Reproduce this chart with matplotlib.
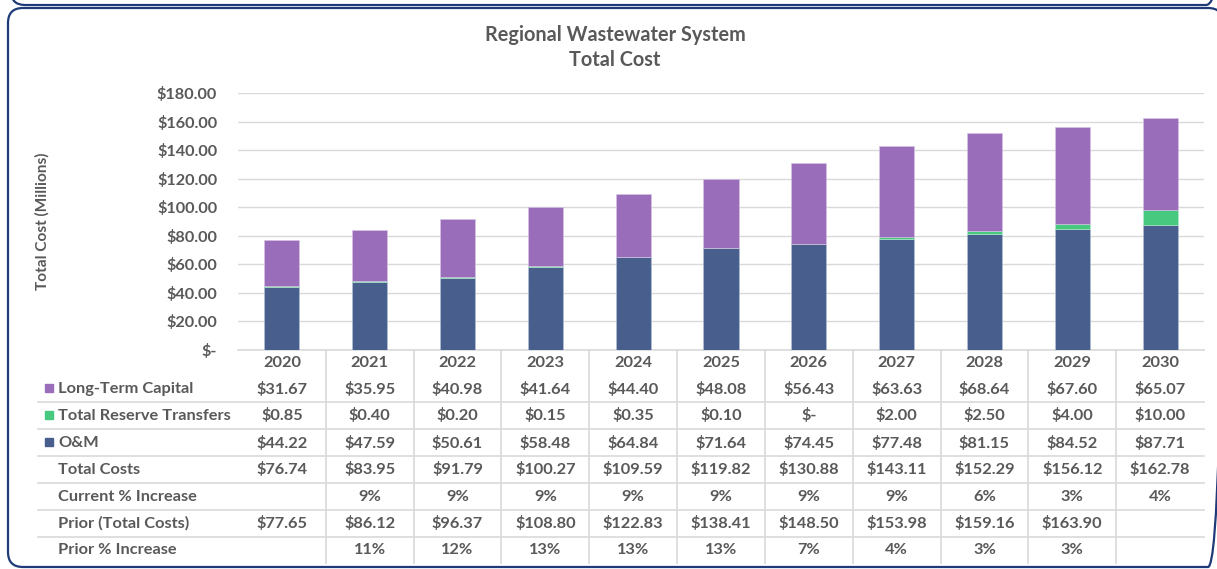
import matplotlib
matplotlib.use("Agg")
import matplotlib.pyplot as plt
from matplotlib.patches import FancyBboxPatch, Rectangle
from matplotlib.transforms import blended_transform_factory
from matplotlib.ticker import FuncFormatter

plt.rcParams['font.family'] = ['Lato', 'DejaVu Sans']

years = ["2020", "2021", "2022", "2023", "2024", "2025", "2026", "2027", "2028", "2029", "2030"]
long_term = [31.67, 35.95, 40.98, 41.64, 44.40, 48.08, 56.43, 63.63, 68.64, 67.60, 65.07]
reserve = [0.85, 0.40, 0.20, 0.15, 0.35, 0.10, 0.0, 2.00, 2.50, 4.00, 10.00]
om = [44.22, 47.59, 50.61, 58.48, 64.84, 71.64, 74.45, 77.48, 81.15, 84.52, 87.71]
total_costs = [76.74, 83.95, 91.79, 100.27, 109.59, 119.82, 130.88, 143.11, 152.29, 156.12, 162.78]
current_pct = [None, 9, 9, 9, 9, 9, 9, 9, 6, 3, 4]
prior_total = [77.65, 86.12, 96.37, 108.80, 122.83, 138.41, 148.50, 153.98, 159.16, 163.90, None]
prior_pct = [None, 11, 12, 13, 13, 13, 7, 4, 3, 3, None]

purple = '#9A6DBA'
green = '#47C97F'
navy = '#485E8C'
txt = '#595959'
grid = '#D9D9D9'

W, H = 1217, 569
fig = plt.figure(figsize=(W / 100, H / 100), dpi=100)

# overlay in pixel coordinates for the rounded frames
bg = fig.add_axes([0, 0, 1, 1], zorder=-1)
bg.set_xlim(0, W)
bg.set_ylim(H, 0)
bg.axis('off')
frame_col = '#1F3A78'
bg.add_patch(FancyBboxPatch((8, 8), 1223 - 8, 567 - 8, boxstyle="round,pad=0,rounding_size=15",
                            fill=False, edgecolor=frame_col, lw=1.6, clip_on=False))
bg.add_patch(FancyBboxPatch((11, -100), 1220 - 11, 105, boxstyle="round,pad=0,rounding_size=14",
                            fill=False, edgecolor=frame_col, lw=1.6, clip_on=False))

# plot area in pixels
x0, x1, ytop, ybot = 238, 1204, 93, 350
ax = fig.add_axes([x0 / W, (H - ybot) / H, (x1 - x0) / W, (ybot - ytop) / H])

x = list(range(len(years)))
bw = 0.4
ax.bar(x, om, bw, color=navy, edgecolor='#B7C2D8', linewidth=0.4, zorder=3)
ax.bar(x, reserve, bw, bottom=om, color=green, edgecolor='#B8EBCF', linewidth=0.4, zorder=3)
bot2 = [a + b for a, b in zip(om, reserve)]
ax.bar(x, long_term, bw, bottom=bot2, color=purple, edgecolor='#D9C6E6', linewidth=0.4, zorder=3)

ax.set_xlim(-0.5, len(years) - 0.5)
ax.set_ylim(0, 180)
ax.set_yticks(range(0, 181, 20))
ax.yaxis.set_major_formatter(FuncFormatter(lambda v, p: "$-" if v == 0 else f"${v:,.2f}"))
ax.grid(axis='y', color=grid, lw=1, zorder=0)
for s in ['top', 'right', 'left']:
    ax.spines[s].set_visible(False)
ax.spines['bottom'].set_color(grid)
ax.spines['bottom'].set_linewidth(1.2)
ax.tick_params(axis='y', length=0, pad=15, labelsize=11.7, labelcolor=txt)
for lab in ax.get_yticklabels():
    lab.set_fontweight('bold')
ax.set_xticks([])

ax.set_ylabel("Total Cost (Millions)", fontsize=11.1, color=txt, fontweight='bold', labelpad=0)
ax.yaxis.set_label_coords(50 / W, 0.5, transform=blended_transform_factory(fig.transFigure, ax.transAxes))

fig.text(615 / W, 1 - 35 / H, "Regional Wastewater System", ha='center', va='center',
         fontsize=14.3, fontweight='bold', color=txt)
fig.text(615 / W, 1 - 60 / H, "Total Cost", ha='center', va='center',
         fontsize=14.3, fontweight='bold', color=txt)

# data table
tr = blended_transform_factory(ax.transData, fig.transFigure)
def fy(p):
    return 1 - p / H

def money(v):
    if v is None:
        return ""
    return "$-" if v == 0 else f"${v:,.2f}"

def pct(v):
    return "" if v is None else f"{v}%"

rows = [
    ("Long-Term Capital", purple, [money(v) for v in long_term]),
    ("Total Reserve Transfers", green, [money(v) for v in reserve]),
    ("O&M", navy, [money(v) for v in om]),
    ("Total Costs", None, [money(v) for v in total_costs]),
    ("Current % Increase", None, [pct(v) for v in current_pct]),
    ("Prior (Total Costs)", None, [money(v) for v in prior_total]),
    ("Prior % Increase", None, [pct(v) for v in prior_pct]),
]
row_y = [389, 416, 443, 470, 497, 523, 550]
fs = 11.8

for i, yr in enumerate(years):
    fig.text(i, fy(363), yr, transform=tr, fontsize=fs, fontweight='bold', color=txt,
             ha='center', va='center')

for (name, col, vals), yp in zip(rows, row_y):
    fig.text(58 / W, fy(yp), name, fontsize=fs, fontweight='bold', color=txt,
             ha='left', va='center')
    if col is not None:
        fig.patches.append(Rectangle((45 / W, fy(yp + 3)), 8 / W, 8 / H,
                                     transform=fig.transFigure, color=col))
    for i, v in enumerate(vals):
        fig.text(i, fy(yp), v, transform=tr, fontsize=fs, fontweight='bold',
                 color=txt, ha='center', va='center')

for yp in [402, 429, 456, 483, 510, 537]:
    fig.add_artist(plt.Line2D([38 / W, x1 / W], [fy(yp), fy(yp)], transform=fig.transFigure,
                              color=grid, lw=1.2))
for i in range(len(years) - 1):
    fig.add_artist(plt.Line2D([i + 0.5, i + 0.5], [fy(350), fy(563)], transform=tr,
                              color=grid, lw=1.2))

fig.savefig("out.png", dpi=100)
